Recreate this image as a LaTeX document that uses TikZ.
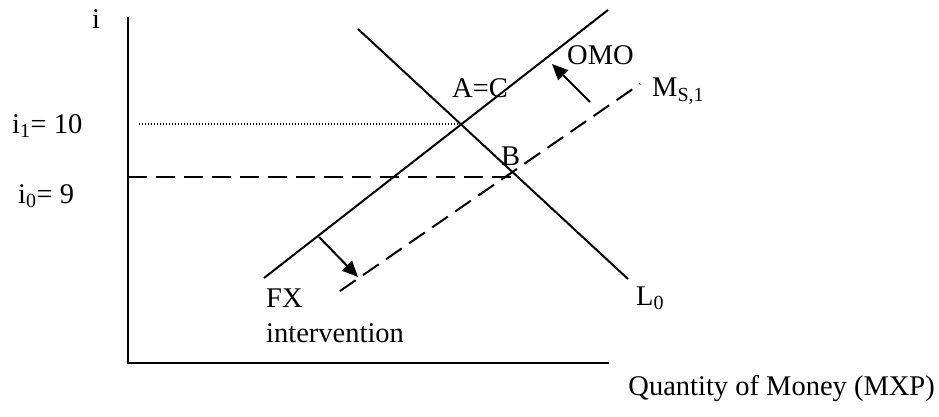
\documentclass[tikz,border=0pt]{standalone}
\usepackage{fontspec}
\setmainfont{Liberation Serif}
\usetikzlibrary{arrows.meta}
\begin{document}
\begin{tikzpicture}[x=1pt,y=-1pt,
  lbl/.style={anchor=base west,inner sep=0pt,font=\fontsize{28.5}{34}\selectfont},
  curve/.style={line width=2pt},
  axisline/.style={line width=2.4pt},
  shiftarrow/.style={line width=2pt,-{Triangle[length=16pt,width=14pt]}},
  dashline/.style={line width=2pt,dash pattern=on 19pt off 9pt},
  dotline/.style={line width=1.2pt,dash pattern=on 1.2pt off 1.8pt}]
\useasboundingbox (0,0) rectangle (939,417);
% axes
\coordinate (ytop) at (128,17);
\coordinate (origin) at (128,363);
\coordinate (xend) at (609,363);
\draw[axisline] (ytop) -- (origin) -- (xend);
% money supply (solid)
\coordinate (ms0a) at (264,278);
\coordinate (ms0b) at (608,10);
\draw[curve] (ms0a) -- (ms0b);
% money demand L0
\coordinate (l0a) at (358,29);
\coordinate (l0b) at (628,279);
\draw[curve] (l0a) -- (l0b);
% money supply MS,1 (dashed)
\coordinate (ms1a) at (340,291);
\coordinate (ms1b) at (640,84);
\draw[dashline] (ms1a) -- (ms1b);
% interest rate guides
\coordinate (dotstart) at (139,124);
\coordinate (ac) at (462,124);
\draw[dotline] (dotstart) -- (ac);
\coordinate (dashstart) at (128,177);
\coordinate (bpt) at (513,177);
\draw[dashline] (dashstart) -- (bpt);
% shift arrows
\coordinate (fxa) at (319,237);
\coordinate (fxb) at (358,277);
\draw[shiftarrow] (fxa) -- (fxb);
\coordinate (omoa) at (590,102);
\coordinate (omob) at (552,64);
\draw[shiftarrow] (omoa) -- (omob);
% labels
\node[lbl] (ilab) at (92,29) {i};
\node[lbl] (i1lab) at (12,133) {i\textsubscript{1}= 10};
\node[lbl] (i0lab) at (18,203) {i\textsubscript{0}= 9};
\node[lbl] (aclab) at (452,98) {A=C};
\node[lbl] (blab) at (501,165) {B};
\node[lbl] (omolab) at (567,65) {OMO};
\node[lbl] (ms1lab) at (652,97) {M\textsubscript{S,1}};
\node[lbl] (fxlab) at (266,307) {FX};
\node[lbl] (intlab) at (266,342) {intervention};
\node[lbl] (l0lab) at (636,305) {L\textsubscript{0}};
\node[lbl,anchor=base east] (qlab) at (935,395) {Quantity of Money (MXP)};
\end{tikzpicture}
\end{document}
